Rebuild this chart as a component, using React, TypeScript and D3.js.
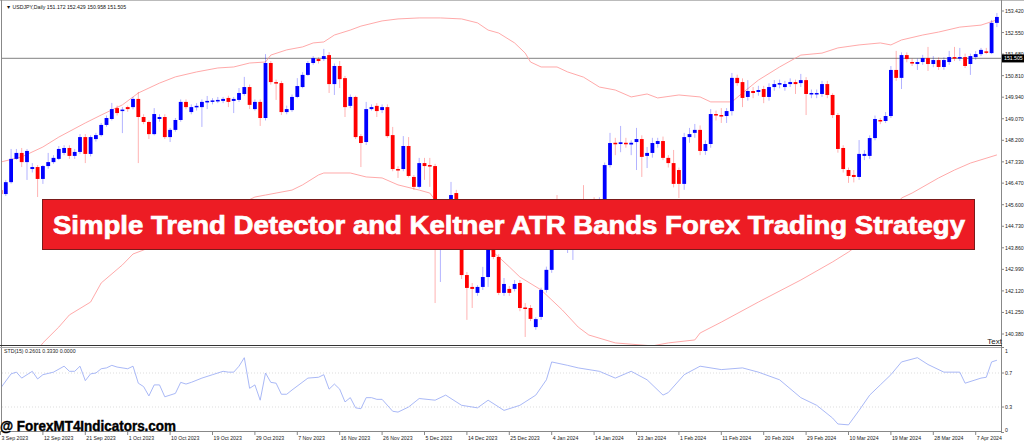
import React from 'react';
import * as d3 from 'd3';

const W = 1024;
const H = 441;

// Daily USDJPY candles: [open, high, low, close]
const candles: [number, number, number, number][] = [
  [146.19,146.30,145.95,146.03],[146.03,146.60,145.95,146.51],[146.51,147.85,146.45,147.45],[147.45,147.85,147.41,147.69],
  [147.69,147.89,147.12,147.32],[147.32,147.85,146.60,147.77],[147.04,147.28,146.90,147.12],[147.12,147.20,145.91,146.64],
  [146.64,147.20,146.44,147.16],[147.16,147.69,147.05,147.32],[147.32,147.60,147.25,147.49],[147.45,147.97,147.40,147.85],
  [147.69,148.00,147.60,147.89],[147.89,148.00,147.45,147.57],[147.57,147.85,147.45,147.73],[147.73,148.45,147.65,148.33],
  [148.33,148.45,147.28,147.65],[147.65,148.40,147.55,148.33],[148.25,148.50,148.15,148.41],[148.41,148.90,148.35,148.82],
  [148.82,149.20,148.75,149.10],[149.06,149.71,149.00,149.46],[149.50,149.60,149.20,149.30],[149.40,149.54,148.49,149.44],
  [149.54,149.60,149.35,149.46],[149.54,149.95,149.45,149.87],[149.87,150.15,147.28,149.14],[149.14,149.25,148.85,148.94],
  [148.94,149.00,148.25,148.45],[148.45,149.50,148.40,149.26],[149.06,149.25,148.95,149.14],[149.14,149.25,148.25,148.33],
  [148.33,148.70,148.13,148.62],[148.62,149.10,148.55,149.02],[149.02,149.85,148.95,149.75],[149.75,149.85,149.45,149.54],
  [149.34,149.65,149.25,149.54],[149.54,149.70,149.40,149.59],[149.54,149.85,148.74,149.75],[149.75,149.99,149.46,149.79],
  [149.77,149.90,149.65,149.81],[149.79,149.95,149.70,149.83],[149.79,149.95,149.70,149.87],[149.91,150.00,149.54,149.75],
  [149.79,149.95,149.30,149.87],[149.83,150.31,149.75,150.11],[150.07,150.76,150.00,150.35],[150.35,150.45,149.46,149.63],
  [149.46,149.85,149.40,149.75],[149.75,149.85,148.78,149.10],[149.10,151.68,149.00,151.32],[151.32,151.40,150.45,150.55],
  [150.55,150.65,149.83,150.51],[150.51,150.60,149.22,149.34],[149.34,149.60,149.25,149.46],[149.42,150.05,149.35,149.95],
  [149.95,150.71,149.90,150.39],[150.35,150.95,150.30,150.84],[150.84,151.40,150.80,151.32],[151.32,151.60,151.25,151.52],
  [151.48,151.55,151.30,151.40],[151.48,151.89,151.40,151.60],[151.64,151.76,150.11,150.47],[150.47,151.30,150.03,151.20],
  [151.20,151.40,150.31,150.67],[150.71,150.80,149.14,149.54],[149.59,150.05,149.50,149.95],[149.95,150.00,148.25,148.33],
  [148.37,148.45,147.12,148.09],[148.13,149.75,148.01,149.46],[149.46,149.65,149.40,149.54],[149.59,149.70,149.14,149.38],
  [149.42,149.65,149.30,149.54],[149.54,149.65,148.30,148.37],[148.41,148.74,146.95,147.04],[147.04,147.15,146.68,147.00],
  [147.04,148.37,146.95,147.97],[147.97,148.33,146.70,146.76],[146.72,146.80,146.20,146.32],[146.32,147.49,146.25,147.28],
  [147.28,147.49,146.60,147.16],[147.20,147.49,146.32,147.16],[147.16,147.25,141.63,144.20],[144.20,145.20,142.48,144.80],
  [144.80,145.50,144.60,145.30],[145.40,146.52,145.20,145.99],[146.07,146.20,144.90,145.20],[145.10,145.30,142.60,142.76],
  [142.76,142.88,140.95,142.24],[142.28,142.44,141.43,142.20],[142.04,142.35,141.92,142.28],[142.28,143.09,142.16,142.68],
  [142.68,144.90,142.28,144.78],[144.58,144.80,143.40,143.49],[143.49,143.60,141.95,142.04],[142.04,142.64,141.92,142.40],
  [142.20,142.32,141.92,142.04],[142.20,142.56,142.10,142.40],[142.44,142.56,141.30,141.43],[141.45,141.63,140.26,141.40],
  [141.43,141.55,140.90,140.99],[140.66,141.05,140.55,140.98],[141.07,142.25,140.95,142.16],[142.16,143.10,142.05,142.97],
  [142.97,144.70,142.85,144.38],[144.60,145.99,143.80,144.40],[144.40,145.00,143.90,144.70],[144.50,145.20,143.65,144.90],
  [144.60,145.40,143.37,145.00],[145.00,145.60,144.60,145.30],[145.60,146.39,144.90,145.20],[145.20,145.80,144.90,145.60],
  [145.60,145.90,145.00,145.30],[145.00,145.90,144.70,145.50],[145.40,147.30,145.20,147.20],[147.20,148.50,147.10,148.09],
  [148.10,148.30,147.60,148.05],[148.05,148.78,147.72,148.12],[148.10,148.30,147.90,148.04],[148.03,148.20,147.60,148.10],
  [148.13,148.70,147.00,148.25],[148.25,148.40,146.72,147.53],[147.57,147.93,147.08,147.69],[147.69,148.30,147.50,148.09],
  [148.05,148.30,147.90,148.17],[148.17,148.35,147.40,147.49],[147.49,147.60,147.10,147.28],[147.28,147.81,146.30,146.44],
  [147.00,147.10,145.87,146.44],[146.44,148.50,146.20,148.33],[148.33,148.70,148.10,148.45],[148.50,148.86,148.30,148.62],
  [148.62,148.80,147.60,147.77],[147.77,148.20,147.61,148.05],[148.05,149.46,147.90,149.26],[149.26,149.40,149.00,149.22],
  [149.22,149.50,148.90,149.18],[149.18,149.50,148.90,149.38],[149.38,150.92,149.20,150.72],[150.72,150.85,150.40,150.51],
  [150.55,150.70,149.54,149.91],[149.95,150.63,149.80,150.19],[150.19,150.35,149.90,150.11],[150.15,150.40,150.00,150.23],
  [150.27,150.40,149.70,149.95],[149.95,150.50,149.80,150.35],[150.35,150.63,150.20,150.47],[150.47,150.65,150.30,150.51],
  [150.35,150.60,150.20,150.47],[150.47,150.70,150.35,150.55],[150.55,150.65,150.07,150.47],[150.51,150.88,150.35,150.63],
  [150.63,150.75,149.22,150.07],[150.07,150.25,149.90,150.11],[150.07,150.25,149.90,150.11],[150.07,150.60,149.95,150.47],
  [150.47,150.60,149.90,150.03],[150.03,150.10,149.10,149.22],[149.22,149.30,147.70,147.85],[147.89,148.00,146.90,147.04],
  [147.00,147.10,146.48,146.76],[146.80,147.00,146.50,146.72],[146.72,148.21,146.60,147.65],[147.57,147.80,147.40,147.65],
  [147.57,148.40,147.45,148.29],[148.29,149.20,148.20,149.06],[149.02,149.10,148.85,148.98],[148.98,149.34,148.90,149.18],
  [149.18,151.20,149.10,151.04],[151.04,151.81,150.60,150.72],[150.72,151.75,150.27,151.64],[151.64,151.75,151.35,151.48],
  [151.36,151.50,151.20,151.32],[151.28,151.50,151.04,151.36],[151.36,151.65,151.25,151.52],[151.52,151.97,151.00,151.28],
  [151.28,151.60,151.15,151.44],[151.44,151.55,151.04,151.16],[151.16,151.55,151.05,151.44],[151.36,151.81,151.25,151.56],
  [151.56,151.97,151.40,151.52],[151.52,151.93,151.40,151.56],[151.56,151.70,151.12,151.20],[151.28,151.70,150.84,151.60],
  [151.56,151.80,151.45,151.68],[151.68,151.93,151.60,151.85],[151.79,151.93,151.68,151.74],[151.72,153.06,151.68,152.94],
  [152.94,153.34,152.77,153.18],
];

// Keltner ATR bands: [bar index, price]
const upperBand: [number, number][] = [
  [0,147.32],[4,147.53],[8,147.93],[11,148.33],[16,148.90],[19,149.22],[23,149.63],[26,150.11],[30,150.51],[33,150.76],
  [37,150.96],[41,151.12],[44,151.16],[47,151.32],[50,151.36],[51,151.64],[54,151.85],[57,151.97],[59,152.13],[61,152.17],
  [63,152.45],[66,152.65],[68,152.81],[72,153.02],[75,153.10],[79,153.14],[83,153.14],[87,153.10],[90,152.94],[92,152.65],
  [94,152.53],[97,152.13],[99,151.72],[100,151.36],[102,151.16],[105,151.16],[107,150.96],[110,150.75],[113,150.35],[116,150.23],
  [119,149.95],[122,150.07],[124,149.91],[128,150.03],[132,149.95],[134,149.75],[138,149.75],[140,150.11],[143,150.63],[147,151.16],
  [151,151.64],[155,151.72],[158,151.93],[162,152.05],[166,152.13],[168,152.05],[170,152.25],[174,152.45],[177,152.57],[181,152.77],
  [185,152.85],[188,153.06],
];
const lowerBand: [number, number][] = [
  [0,138.32],[7,139.73],[8,140.02],[11,140.66],[13,141.15],[17,141.67],[19,142.44],[23,143.17],[25,143.61],[27,143.77],
  [32,144.26],[38,144.78],[43,145.39],[48,145.91],[50,145.99],[52,146.07],[55,146.19],[57,146.40],[60,146.80],[61,146.88],
  [66,146.88],[69,146.72],[72,146.68],[75,146.40],[79,146.19],[81,146.07],[82,145.79],[88,144.58],[94,143.49],[96,143.09],
  [98,142.68],[102,142.16],[106,141.35],[109,140.66],[111,140.34],[116,140.02],[123,139.90],[126,140.02],[131,140.14],[132,140.42],
  [136,140.86],[143,141.67],[151,142.56],[157,143.29],[160,143.69],[167,144.78],[170,145.87],[172,146.07],[177,146.68],[180,147.00],
  [183,147.28],[188,147.61],
];

// STD(15) indicator: [bar index, value]
const stdLine: [number, number][] = [
  [0,0.52],[2,0.69],[3,0.71],[4,0.64],[6,0.72],[7,0.63],[8,0.68],[10,0.71],[12,0.78],[13,0.72],[14,0.72],[15,0.78],[16,0.61],
  [17,0.69],[18,0.70],[19,0.75],[20,0.76],[21,0.79],[22,0.77],[24,0.75],[25,0.78],[26,0.58],[27,0.54],[28,0.43],[29,0.56],
  [30,0.56],[31,0.42],[33,0.46],[34,0.59],[35,0.57],[36,0.59],[38,0.64],[40,0.68],[42,0.72],[43,0.71],[44,0.71],[45,0.78],
  [46,0.88],[47,0.52],[48,0.56],[49,0.38],[50,0.70],[51,0.59],[52,0.58],[53,0.45],[54,0.45],[55,0.50],[58,0.64],[60,0.65],
  [61,0.68],[62,0.51],[63,0.57],[64,0.51],[65,0.36],[66,0.41],[67,0.29],[68,0.28],[69,0.41],[70,0.41],[71,0.39],[72,0.39],
  [74,0.25],[75,0.24],[77,0.30],[79,0.40],[82,0.38],[84,0.44],[87,0.32],[90,0.29],[92,0.38],[95,0.26],[98,0.32],[101,0.44],
  [103,0.62],[104,0.83],[107,0.79],[109,0.76],[113,0.72],[116,0.64],[119,0.72],[122,0.62],[125,0.44],[126,0.47],[129,0.68],
  [132,0.78],[136,0.74],[140,0.76],[143,0.71],[147,0.62],[151,0.41],[154,0.32],[157,0.17],[158,0.10],[160,0.09],[162,0.26],
  [164,0.44],[166,0.56],[168,0.68],[170,0.83],[173,0.88],[175,0.80],[178,0.71],[181,0.71],[182,0.58],[185,0.64],[186,0.65],
  [187,0.83],[188,0.85],
];

const priceTicks = [153.42, 152.55, 151.68, 150.81, 149.94, 149.07, 148.2, 147.33, 146.47, 145.6, 144.73, 143.86, 142.99, 142.12, 141.25, 140.38];
const stdTicks = [1, 0.7, 0.3, 0];
const stdGrid = [0.7, 0.3];
const dateLabels = [
  '3 Sep 2023', '12 Sep 2023', '21 Sep 2023', '1 Oct 2023', '10 Oct 2023', '19 Oct 2023', '29 Oct 2023', '7 Nov 2023',
  '16 Nov 2023', '26 Nov 2023', '5 Dec 2023', '14 Dec 2023', '25 Dec 2023', '4 Jan 2024', '14 Jan 2024', '23 Jan 2024',
  '1 Feb 2024', '11 Feb 2024', '20 Feb 2024', '29 Feb 2024', '10 Mar 2024', '19 Mar 2024', '28 Mar 2024', '7 Apr 2024',
];
const dateStep = 8;
const currentPrice = 151.505;
const headerText = 'USDJPY,Daily  151.172 152.429 150.958 151.505';
const stdLabel = 'STD(15) 0.2601 0.3330 0.0000';
const bannerText = 'Simple Trend Detector and Keltner ATR Bands Forex Trading Strategy';
const watermark = '@ ForexMT4Indicators.com';

const BULL = '#0000ff';
const BEAR = '#ff0000';
const small = { fontFamily: 'Liberation Sans, Arial, sans-serif', fontSize: 5.2, fill: '#222' };

export default function App() {
  const x = d3.scaleLinear().domain([0, candles.length - 1]).range([0.5, 996.9]);
  const y = d3.scaleLinear().domain([140.38, 153.42]).range([334, 11]);
  const ys = d3.scaleLinear().domain([0, 1]).range([432.5, 347.5]);
  const bodyW = 3.8;

  const bandLine = d3.line<[number, number]>().x(d => x(d[0])).y(d => y(d[1]));
  const stdPath = d3.line<[number, number]>().x(d => x(d[0])).y(d => ys(d[1]))(stdLine) || '';

  return (
    <svg width={W} height={H} style={{ position: 'absolute', left: 0, top: 0, background: '#fff' }}>
      <defs>
        <clipPath id="main"><rect x={2} y={2} width={999} height={343} /></clipPath>
        <clipPath id="ind"><rect x={2} y={348} width={999} height={83} /></clipPath>
      </defs>
      <rect x={0} y={0} width={W} height={H} fill="#fff" />

      {/* frames */}
      <line x1={0} y1={0.5} x2={1024} y2={0.5} stroke="#bbb" />
      <line x1={1.5} y1={0} x2={1.5} y2={432} stroke="#888" />
      <line x1={1001.5} y1={0} x2={1001.5} y2={432} stroke="#888" />
      <line x1={0} y1={345.5} x2={1002} y2={345.5} stroke="#333" strokeWidth={1.2} />
      <line x1={0} y1={347.5} x2={1002} y2={347.5} stroke="#aaa" />
      <line x1={0} y1={431.5} x2={1002} y2={431.5} stroke="#888" />

      {/* main panel */}
      <g clipPath="url(#main)">
        <line x1={2} x2={1001} y1={y(currentPrice)} y2={y(currentPrice)} stroke="#9a9a9a" strokeWidth={1.2} />
        <path d={bandLine(upperBand) || ''} fill="none" stroke="#ff9a9a" strokeWidth={0.85} />
        <path d={bandLine(lowerBand) || ''} fill="none" stroke="#ff9a9a" strokeWidth={0.85} />
        {candles.map((c, i) => {
          const [o, h, l, cl] = c;
          const col = cl >= o ? BULL : BEAR;
          const cx = x(i);
          const top = y(Math.max(o, cl));
          const bot = y(Math.min(o, cl));
          return (
            <g key={i}>
              <line x1={cx} x2={cx} y1={y(h)} y2={y(l)} stroke={col} strokeOpacity={0.3} strokeWidth={1} />
              <rect x={cx - bodyW / 2} y={top} width={bodyW} height={Math.max(bot - top, 1.5)} fill={col} />
            </g>
          );
        })}
      </g>
      <text x={6} y={9} {...small} fill="#111">▼ {headerText}</text>
      <text x={1002} y={344} textAnchor="end" style={{ fontFamily: 'Liberation Sans, Arial, sans-serif', fontSize: 8 }} fill="#222">Text</text>

      {/* price axis */}
      {priceTicks.map((p, i) => (
        <g key={i}>
          <line x1={1001} x2={1004} y1={y(p)} y2={y(p)} stroke="#888" />
          <text x={1005} y={y(p) + 2} {...small}>{p.toFixed(3)}</text>
        </g>
      ))}
      <rect x={1002} y={y(currentPrice) - 4} width={22} height={8} fill="#000" />
      <text x={1004} y={y(currentPrice) + 2} {...small} fill="#fff">{currentPrice.toFixed(3)}</text>

      {/* indicator panel */}
      <g clipPath="url(#ind)">
        {stdGrid.map((v, i) => (
          <line key={i} x1={2} x2={1001} y1={ys(v)} y2={ys(v)} stroke="#ddd" strokeDasharray="1,2" />
        ))}
        <path d={stdPath} fill="none" stroke="#9fb0f5" strokeWidth={0.9} />
      </g>
      <text x={4} y={353} {...small}>{stdLabel}</text>
      {stdTicks.map((v, i) => {
        const yy = Math.min(Math.max(ys(v), 351), 430);
        return (
          <g key={i}>
            <line x1={1001} x2={1004} y1={ys(v)} y2={ys(v)} stroke="#888" />
            <text x={1005} y={yy + 2} {...small}>{String(v)}</text>
          </g>
        );
      })}

      {/* date axis */}
      {dateLabels.map((d, k) => {
        const xx = x(k * dateStep);
        return (
          <g key={k}>
            <line x1={xx} x2={xx} y1={431} y2={435} stroke="#888" />
            <text x={xx + 1} y={439.5} {...small}>{d}</text>
          </g>
        );
      })}

      {/* banner */}
      <rect x={42.5} y={199.5} width={932} height={50} fill="#ed1c24" stroke="#7a1a1a" strokeWidth={1} />
      <text x={53} y={234} textLength={912} lengthAdjust="spacingAndGlyphs"
        stroke="#fff" strokeWidth={0.7}
        style={{ fontFamily: 'Liberation Sans, Arial, sans-serif', fontWeight: 'bold', fontSize: 25 }} fill="#fff">
        {bannerText}
      </text>

      {/* watermark */}
      <text x={0} y={431} textLength={176} lengthAdjust="spacingAndGlyphs"
        stroke="#000" strokeWidth={0.4}
        style={{ fontFamily: 'Liberation Sans, Arial, sans-serif', fontWeight: 'bold', fontSize: 14 }} fill="#000">
        {watermark}
      </text>
    </svg>
  );
}
